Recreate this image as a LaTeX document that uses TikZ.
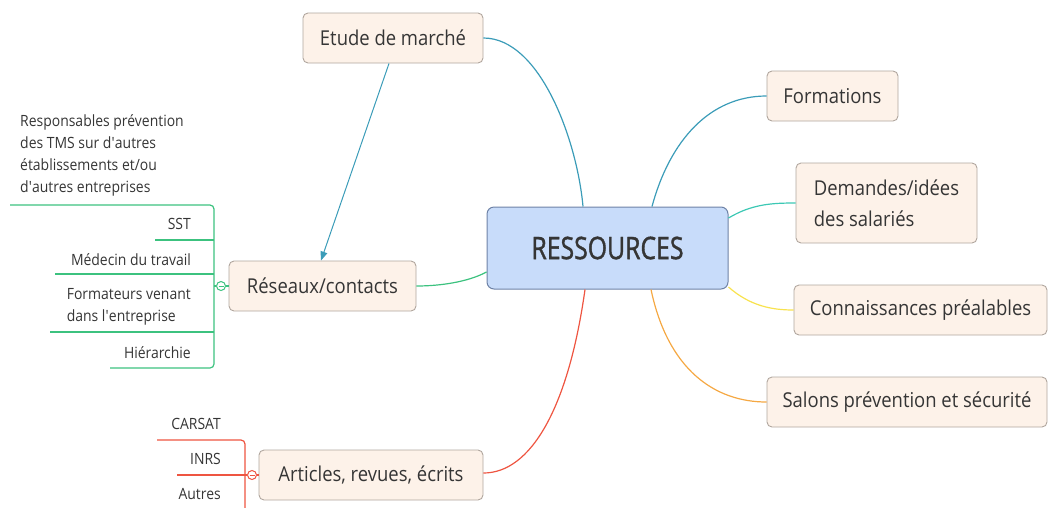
\documentclass[tikz,border=0pt]{standalone}
\usepackage{fontspec}
\setmainfont{Open Sans}[FakeStretch=0.9]
\newfontfamily\centfont{Open Sans}[FakeStretch=0.8,FakeBold=1.2]
\usetikzlibrary{arrows.meta}
\definecolor{boxfill}{HTML}{FDF2E9}
\definecolor{boxline}{HTML}{B0A69E}
\definecolor{centfill}{HTML}{C8DCFA}
\definecolor{centline}{HTML}{6E82A6}
\definecolor{txt}{HTML}{353535}
\definecolor{lteal}{HTML}{3B9CB8}
\definecolor{lturq}{HTML}{3CC8B4}
\definecolor{lyellow}{HTML}{F8E24E}
\definecolor{lorange}{HTML}{F5A843}
\definecolor{lred}{HTML}{EE5541}
\definecolor{lgreen}{HTML}{3CC27F}

\begin{document}
\begin{tikzpicture}[x=1pt,y=-1pt]
		% Define styles
		\tikzstyle{topic}=[draw=boxline,fill=boxfill,rounded corners=5pt,line width=0.9pt,text=txt,font=\fontsize{20.5}{31}\selectfont,inner sep=0pt,minimum height=50pt]
		\tikzstyle{central}=[draw=centline,fill=centfill,rounded corners=7pt,line width=1pt,text=txt,font=\centfont\fontsize{31}{34}\selectfont,inner sep=0pt,minimum width=241pt,minimum height=82pt]
		\tikzstyle{branch}=[line width=1.2pt]
		\tikzstyle{leaf}=[text=txt,font=\fontsize{15.5}{22.2}\selectfont,inner sep=0pt]
		\tikzstyle{fold}=[circle,fill=white,minimum size=9pt,inner sep=0pt,line width=1pt]
		
		\useasboundingbox (0,0) rectangle (1048,507);
		\clip (0,0) rectangle (1048,507);
		
		% Central topic and main topics
		\node[central] (res) at (607.5,248) {RESSOURCES};
		\node[topic,minimum width=180pt] (etude) at (393,38) {Etude de marché};
		\node[topic,minimum width=131pt] (form) at (832.5,96) {Formations};
		\node[topic,minimum width=181pt,minimum height=80pt,align=left] (dem) at (886.5,203) {Demandes/idées\\des salariés};
		\node[topic,minimum width=253pt] (conn) at (920.5,310) {Connaissances préalables};
		\node[topic,minimum width=280pt] (salons) at (907,402) {Salons prévention et sécurité};
		\node[topic,minimum width=187pt] (reseau) at (322.5,286) {Réseaux/contacts};
		\node[topic,minimum width=224pt] (articles) at (371,475) {Articles, revues, écrits};
		
		% Branches from the central topic
		\draw[branch,lteal] (etude.east) .. controls (540,38) and (577,140) .. ([xshift=-24.5pt]res.north);
		\draw[branch,lteal] ([xshift=44.5pt]res.north) .. controls (670,140) and (710,96) .. (form.west);
		\draw[branch,lturq] ([yshift=30pt]res.east) .. controls (752,204) and (772,203) .. (dem.west);
		\draw[branch,lyellow] ([yshift=-39pt]res.east) .. controls (750,306) and (772,310) .. (conn.west);
		\draw[branch,lorange] ([xshift=43.5pt]res.south) .. controls (668,370) and (715,402) .. (salons.west);
		\draw[branch,lred] ([xshift=-22.5pt]res.south) .. controls (568,410) and (530,473) .. ([yshift=2pt]articles.east);
		\draw[branch,lgreen] ([yshift=-24pt]res.west) .. controls (468,282) and (440,286) .. (reseau.east);
		
		% Relation arrow
		\draw[lteal,line width=1pt,-{Triangle[length=9pt,width=7pt]}] ([xshift=-4pt]etude.south) -- ([xshift=-1.5pt]reseau.north);
		
		% Subtopics of Reseaux/contacts
		\node[fold,draw=lgreen] (rfold) at (221,286) {};
		\draw[branch,lgreen] (reseau.west) -- (rfold.east);
		\draw[branch,lgreen,rounded corners=4pt] (10,205) -- (214,205) -- (214,368) -- (110,368);
		\draw[branch,lgreen] (155,240) -- (214,240) (55,274) -- (214,274) (50,332) -- (214,332) (rfold.west) -- (214,286);
		\draw[lgreen,line width=0.8pt] ([xshift=-2.5pt]rfold.center) -- ([xshift=2.5pt]rfold.center);
		\node[leaf,align=left,anchor=north west] (resp) at (20,114) {Responsables prévention\\des TMS sur d\textquotesingle autres\\établissements et/ou\\d\textquotesingle autres entreprises};
		\node[leaf,anchor=base east] (sst) at (191,229) {SST};
		\node[leaf,anchor=base east] (med) at (191,265) {Médecin du travail};
		\node[leaf,align=left,anchor=north east] (formt) at (191,288.5) {Formateurs venant\\dans l\textquotesingle entreprise};
		\node[leaf,anchor=base east] (hier) at (191,358) {Hiérarchie};
		
		% Subtopics of Articles
		\node[fold,draw=lred] (afold) at (252,475) {};
		\draw[branch,lred] (articles.west) -- (afold.east);
		\draw[branch,lred,rounded corners=4pt] (157,440) -- (245,440) -- (245,520);
		\draw[branch,lred] (177,475) -- (245,475) (afold.west) -- (245,475);
		\draw[lred,line width=0.8pt] ([xshift=-2.5pt]afold.center) -- ([xshift=2.5pt]afold.center);
		\node[leaf,anchor=base east] (carsat) at (221,429) {CARSAT};
		\node[leaf,anchor=base east] (inrs) at (221,464) {INRS};
		\node[leaf,anchor=base east] (autres) at (221,499) {Autres};
		
	\end{tikzpicture}
\end{document}
